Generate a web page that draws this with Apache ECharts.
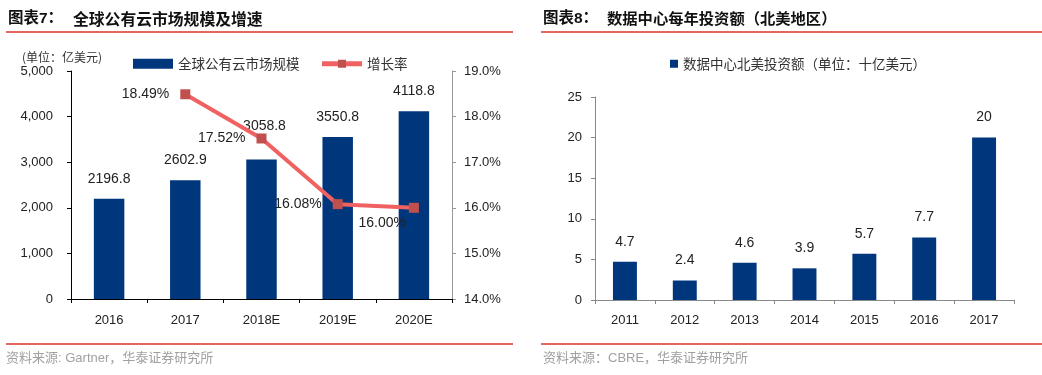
<!DOCTYPE html>
<html>
<head>
<meta charset="utf-8">
<script src="https://cdn.jsdelivr.net/npm/echarts@6/dist/echarts.min.js"></script>
<style>
html,body{margin:0;padding:0;background:#fff;}
#c{width:1042px;height:375px;}
</style>
</head>
<body>
<div id="c"></div>
<script>
// ---- Left chart data ----
const leftCategories = ['2016', '2017', '2018E', '2019E', '2020E'];
const marketSize = [2196.8, 2602.9, 3058.8, 3550.8, 4118.8];
const growthRate = [null, 18.49, 17.52, 16.08, 16.00];
const leftTitleNo = '图表7：';
const leftTitle = '全球公有云市场规模及增速';
const leftUnit = '(单位：亿美元)';
const leftBarName = '全球公有云市场规模';
const leftLineName = '增长率';
const leftSource = '资料来源: Gartner，华泰证券研究所';

// ---- Right chart data ----
const rightCategories = ['2011', '2012', '2013', '2014', '2015', '2016', '2017'];
const investment = [4.7, 2.4, 4.6, 3.9, 5.7, 7.7, 20];
const rightTitleNo = '图表8：';
const rightTitle = '数据中心每年投资额（北美地区）';
const rightBarName = '数据中心北美投资额（单位：十亿美元）';
const rightSource = '资料来源：CBRE，华泰证券研究所';

const BAR = '#00367C';
const LINE = '#F06262';
const MARK = '#C0504D';
const RULE = '#E2675E';
const NUM = '"Liberation Sans", Arial, sans-serif';
const CJK = '"Noto Sans CJK SC", sans-serif';
const MIX = '"Liberation Sans", "Noto Sans CJK SC", sans-serif';

const chart = echarts.init(document.getElementById('c'));

const numAxisLabel = {color: '#222', fontSize: 13, fontFamily: NUM};

const option = {
  animation: false,
  backgroundColor: '#fff',
  textStyle: {fontFamily: NUM},
  grid: [
    {left: 71, right: 590, top: 71, bottom: 76},
    {left: 595, right: 28, top: 97, bottom: 75}
  ],
  legend: [
    {
      left: 128, top: 52, itemGap: 20,
      textStyle: {fontFamily: CJK, fontSize: 13.5, color: '#333'},
      data: [
        {name: leftBarName, icon: 'rect', itemWidth: 38, itemHeight: 8},
        {name: leftLineName, lineStyle: {width: 5}}
      ],
      itemWidth: 40, itemHeight: 10
    },
    {
      left: 665, top: 52, itemWidth: 8, itemHeight: 8,
      textStyle: {fontFamily: CJK, fontSize: 13.5, color: '#333'},
      data: [{name: rightBarName, icon: 'rect'}]
    }
  ],
  xAxis: [
    {
      type: 'category', gridIndex: 0, data: leftCategories,
      axisLine: {lineStyle: {color: '#000', width: 1}},
      axisTick: {show: true, length: 4, lineStyle: {color: '#000'}},
      axisLabel: Object.assign({margin: 15}, numAxisLabel)
    },
    {
      type: 'category', gridIndex: 1, data: rightCategories,
      axisLine: {lineStyle: {color: '#888', width: 1}},
      axisTick: {show: true, length: 4, lineStyle: {color: '#888'}},
      axisLabel: Object.assign({margin: 14}, numAxisLabel)
    }
  ],
  yAxis: [
    {
      type: 'value', gridIndex: 0, min: 0, max: 5000, interval: 1000,
      axisLine: {show: true, lineStyle: {color: '#000'}},
      axisTick: {show: true, length: 4, lineStyle: {color: '#000'}},
      splitLine: {show: false},
      axisLabel: Object.assign({margin: 18, formatter: v => v.toLocaleString('en-US')}, numAxisLabel)
    },
    {
      type: 'value', gridIndex: 0, position: 'right', min: 14, max: 19, interval: 1,
      axisLine: {show: true, lineStyle: {color: '#999'}},
      axisTick: {show: true, length: 4, lineStyle: {color: '#999'}},
      splitLine: {show: false},
      axisLabel: Object.assign({margin: 12, formatter: v => v.toFixed(1) + '%'}, numAxisLabel)
    },
    {
      type: 'value', gridIndex: 1, min: 0, max: 25, interval: 5,
      axisLine: {show: true, lineStyle: {color: '#888'}},
      axisTick: {show: true, length: 4, lineStyle: {color: '#888'}},
      splitLine: {show: false},
      axisLabel: Object.assign({margin: 13}, numAxisLabel)
    }
  ],
  series: [
    {
      name: leftBarName, type: 'bar', xAxisIndex: 0, yAxisIndex: 0,
      barWidth: '40%',
      itemStyle: {color: BAR},
      data: marketSize.map((v, i) => i === 2 ? {value: v, label: {distance: 26, offset: [3, 0]}} : v),
      label: {show: true, position: 'top', distance: 13, color: '#222', fontSize: 14, fontFamily: NUM}
    },
    {
      name: leftLineName, type: 'line', xAxisIndex: 0, yAxisIndex: 1,
      symbol: 'rect', symbolSize: 10,
      itemStyle: {color: MARK},
      lineStyle: {color: LINE, width: 4},
      data: growthRate.map((v, i) => i === 4 ? {value: v, label: {position: 'left', offset: [8, 15]}} : v),
      label: {show: true, position: 'left', distance: 11, color: '#222', fontSize: 14, fontFamily: NUM,
        formatter: p => p.value.toFixed(2) + '%'}
    },
    {
      name: rightBarName, type: 'bar', xAxisIndex: 1, yAxisIndex: 2,
      barWidth: '40%',
      itemStyle: {color: BAR},
      data: investment,
      label: {show: true, position: 'top', distance: 13, color: '#222', fontSize: 14, fontFamily: NUM}
    }
  ],
  graphic: [
    {type: 'text', left: 8, top: 11, style: {text: leftTitleNo, font: 'bold 15.5px ' + MIX, fill: '#111'}},
    {type: 'text', left: 73, top: 11, style: {text: leftTitle, font: 'bold 15.8px ' + CJK, fill: '#111'}},
    {type: 'rect', shape: {x: 6, y: 31, width: 507, height: 2}, style: {fill: RULE}},
    {type: 'text', left: 22, top: 51, style: {text: leftUnit, font: '12px ' + CJK, fill: '#333'}},
    {type: 'rect', shape: {x: 6, y: 343, width: 507, height: 2}, style: {fill: RULE}},
    {type: 'text', left: 6, top: 352, style: {text: leftSource, font: '13px ' + MIX, fill: '#A0A0A0'}},

    {type: 'text', left: 543, top: 11, style: {text: rightTitleNo, font: 'bold 15.5px ' + MIX, fill: '#111'}},
    {type: 'text', left: 607, top: 11, style: {text: rightTitle, font: 'bold 15.3px ' + CJK, fill: '#111'}},
    {type: 'rect', shape: {x: 541, y: 31, width: 501, height: 2}, style: {fill: RULE}},
    {type: 'rect', shape: {x: 541, y: 343, width: 501, height: 2}, style: {fill: RULE}},
    {type: 'text', left: 543, top: 352, style: {text: rightSource, font: '13px ' + MIX, fill: '#A0A0A0'}}
  ]
};
chart.setOption(option);
</script>
</body>
</html>
